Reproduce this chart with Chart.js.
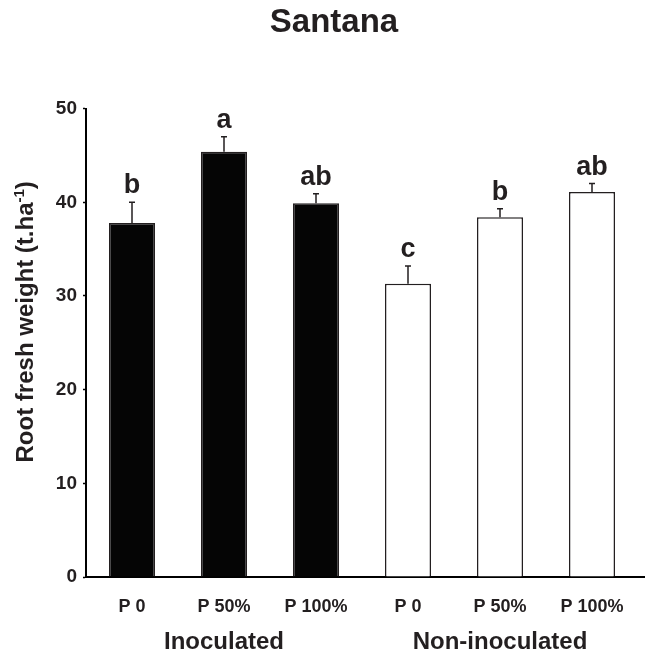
<!DOCTYPE html>
<html>
<head>
<meta charset="utf-8">
<script src="https://cdn.jsdelivr.net/npm/chart.js@4.4.1/dist/chart.umd.min.js"></script>
<style>
  html, body { margin: 0; padding: 0; background: #fff; }
  #wrap { width: 645px; height: 651px; }
</style>
</head>
<body>
<div id="wrap"><canvas id="chart"></canvas></div>
<script>
// Values (t/ha), mean + upper SE and the letter groups.
const TITLE = "Santana"
const CATEGORIES = ["P 0", "P 50%", "P 100%", "P 0", "P 50%", "P 100%"]
const MEANS = [37.8, 45.4, 39.9, 31.3, 38.4, 41.1]
const ERRORS = [2.2, 1.6, 1.0, 1.9, 0.9, 0.9]
const LETTERS = ["b", "a", "ab", "c", "b", "ab"]
const GROUPS = ["Inoculated", "Non-inoculated"]
const GROUP_SPANS = [[0, 2], [3, 5]]
const Y_TICKS = [0, 10, 20, 30, 40, 50]
const Y_TITLE = "Root fresh weight (t.ha"
const Y_TITLE_SUP = "-1"
const Y_TITLE_END = ")"

const INK = "#231f20"
const BLACK_FILL = "#050505"
const WHITE_FILL = "#ffffff"
const FONT = "'Liberation Sans', Arial, Helvetica, sans-serif"
const AXIS_LEFT = 86   // pixel where the y axis sits
const AXIS_BOTTOM_SPACE = 74

function groupOf(i) {
  return GROUP_SPANS.findIndex(([a, b]) => i >= a && i <= b)
}

// Upper error bars with caps, significance letters above them.
const errorBars = {
  id: "errorBars",
  afterDatasetsDraw(chart) {
    const { ctx, scales } = chart
    const bars = chart.getDatasetMeta(0).data
    ctx.save()
    ctx.strokeStyle = INK
    ctx.lineWidth = 1.5
    bars.forEach((bar, i) => {
      const yBar = scales.y.getPixelForValue(MEANS[i])
      const yTop = scales.y.getPixelForValue(MEANS[i] + ERRORS[i])
      ctx.beginPath()
      ctx.moveTo(bar.x, yBar)
      ctx.lineTo(bar.x, yTop)
      ctx.moveTo(bar.x - 3, yTop)
      ctx.lineTo(bar.x + 3, yTop)
      ctx.stroke()
      ctx.fillStyle = INK
      ctx.font = "bold 27px " + FONT
      ctx.textAlign = "center"
      ctx.textBaseline = "alphabetic"
      ctx.fillText(LETTERS[i], bar.x, yTop - 9)
    })
    ctx.restore()
  }
}

// Group names under the tick labels, the rotated y title, and the x axis
// line running on to the right edge like in the original.
const decorations = {
  id: "decorations",
  afterDraw(chart) {
    const { ctx, scales, chartArea } = chart
    const bars = chart.getDatasetMeta(0).data
    ctx.save()
    ctx.fillStyle = INK
    ctx.font = "bold 24px " + FONT
    ctx.textAlign = "center"
    ctx.textBaseline = "alphabetic"
    GROUPS.forEach((name, g) => {
      const [a, b] = GROUP_SPANS[g]
      const cx = (bars[a].x + bars[b].x) / 2
      ctx.fillText(name, cx, chart.height - 2)
    })

    // x axis continues past the last category
    const y0 = scales.y.getPixelForValue(0)
    ctx.strokeStyle = "#000"
    ctx.lineWidth = 2
    ctx.beginPath()
    ctx.moveTo(chartArea.right - 1, y0)
    ctx.lineTo(chart.width, y0)
    ctx.stroke()

    // y title with superscript
    const main = "bold 24px " + FONT
    const sup = "bold 15px " + FONT
    ctx.font = main
    const w1 = ctx.measureText(Y_TITLE).width
    const w3 = ctx.measureText(Y_TITLE_END).width
    ctx.font = sup
    const w2 = ctx.measureText(Y_TITLE_SUP).width
    const total = w1 + w2 + w3
    ctx.translate(33, (chartArea.top + chartArea.bottom) / 2 - 21)
    ctx.rotate(-Math.PI / 2)
    ctx.textAlign = "left"
    let x = -total / 2
    ctx.font = main
    ctx.fillText(Y_TITLE, x, 0)
    x += w1
    ctx.font = sup
    ctx.fillText(Y_TITLE_SUP, x, -9)
    x += w2
    ctx.font = main
    ctx.fillText(Y_TITLE_END, x, 0)
    ctx.restore()
  }
}

new Chart(document.getElementById("chart"), {
  type: "bar",
  plugins: [errorBars, decorations],
  data: {
    labels: CATEGORIES,
    datasets: [{
      data: MEANS,
      backgroundColor: (c) => (groupOf(c.dataIndex) === 0 ? BLACK_FILL : WHITE_FILL),
      borderColor: INK,
      borderWidth: 1.5,
      borderSkipped: "bottom",
      barPercentage: 0.5,
      categoryPercentage: 1
    }]
  },
  options: {
    responsive: true,
    maintainAspectRatio: false,
    animation: false,
    layout: { padding: { left: 30, right: 7, top: 0, bottom: 0 } },
    plugins: {
      legend: { display: false },
      tooltip: { enabled: false },
      title: {
        display: true,
        text: TITLE,
        color: INK,
        font: { family: FONT, size: 33, weight: "bold", lineHeight: 1.2 },
        padding: { top: 3, bottom: 66 }
      }
    },
    scales: {
      x: {
        grid: { display: true, drawOnChartArea: false, drawTicks: false },
        border: { display: true, color: "#000", width: 2 },
        afterFit: (s) => { s.height = AXIS_BOTTOM_SPACE },
        ticks: {
          color: INK,
          padding: 19,
          maxRotation: 0,
          autoSkip: false,
          font: { family: FONT, size: 18, weight: "bold" }
        }
      },
      y: {
        min: 0,
        max: 50,
        afterFit: (s) => { s.width = AXIS_LEFT - 30 },
        afterBuildTicks: (axis) => { axis.ticks = Y_TICKS.map((v) => ({ value: v })) },
        grid: { drawOnChartArea: false, drawTicks: true, tickLength: 3, tickColor: "#000", tickWidth: 1.5 },
        border: { display: true, color: "#000", width: 2 },
        ticks: {
          color: INK,
          padding: 6,
          font: { family: FONT, size: 19, weight: "bold" }
        }
      }
    }
  }
})
</script>
</body>
</html>
